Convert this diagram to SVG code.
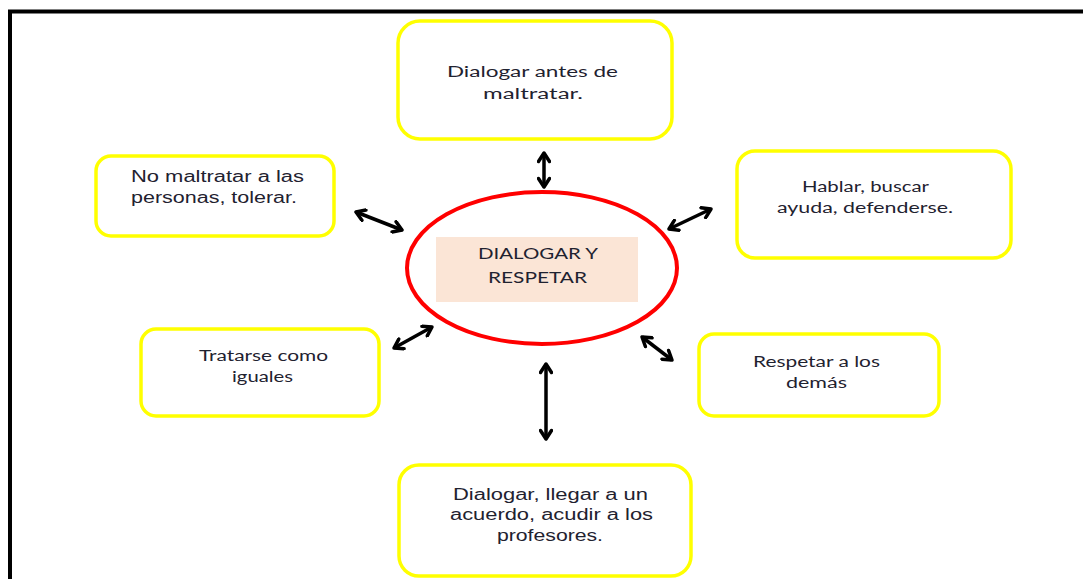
<svg xmlns="http://www.w3.org/2000/svg" width="1083" height="579" viewBox="0 0 1083 579">
<defs>
<style>
.box{fill:#fff;stroke:#ffff00;stroke-width:3.5}
.cal{font-family:Lato,"Open Sans","DejaVu Sans",sans-serif;font-size:15.5px;fill:#1f2230}
.ari{font-family:"Liberation Sans",Arial,sans-serif;font-size:16px;fill:#1f2230}
.conn{stroke:#000;stroke-width:3.5;fill:none;marker-start:url(#ah);marker-end:url(#ah)}
</style>
<marker id="ah" viewBox="0 0 14 14" refX="11.5" refY="7" markerWidth="14" markerHeight="14" markerUnits="userSpaceOnUse" orient="auto-start-reverse">
<path d="M3,1.5 L11.5,7 L3,12.5" fill="none" stroke="#000" stroke-width="3.5" stroke-linecap="round" stroke-linejoin="round"/>
</marker>
</defs>
<rect x="0" y="0" width="1083" height="579" fill="#fff"/>
<path d="M10,600 L10,11.5 L1100,11.5" fill="none" stroke="#000" stroke-width="4"/>

<g id="connectors">
<line class="conn" x1="544" y1="153" x2="544" y2="187"/>
<line class="conn" x1="356" y1="212" x2="402" y2="230"/>
<line class="conn" x1="669" y1="229" x2="711" y2="209"/>
<line class="conn" x1="394" y1="348" x2="432" y2="327"/>
<line class="conn" x1="642" y1="337" x2="672" y2="360"/>
<line class="conn" x1="546" y1="364" x2="546" y2="439"/>
</g>

<g id="center">
<ellipse cx="542" cy="268" rx="135" ry="76" fill="#fff" stroke="#ff0000" stroke-width="4"/>
<rect x="436" y="237" width="202" height="65" fill="#fbe5d6"/>
<text class="cal" font-size="16" x="478" y="259" textLength="120" lengthAdjust="spacingAndGlyphs">DIALOGAR Y</text>
<text class="cal" font-size="16" x="488" y="283" textLength="99" lengthAdjust="spacingAndGlyphs">RESPETAR</text>
</g>

<g id="n-top">
<rect class="box" x="398" y="21" width="274" height="118" rx="22"/>
<text class="cal" x="447" y="77" textLength="171" lengthAdjust="spacingAndGlyphs">Dialogar antes de</text>
<text class="cal" x="483" y="99" textLength="100" lengthAdjust="spacingAndGlyphs">maltratar.</text>
</g>

<g id="n-topleft">
<rect class="box" x="96" y="156" width="238" height="80" rx="15"/>
<text class="ari" x="131" y="182" textLength="173" lengthAdjust="spacingAndGlyphs">No maltratar a las</text>
<text class="ari" x="131" y="203" textLength="166" lengthAdjust="spacingAndGlyphs">personas, tolerar.</text>
</g>

<g id="n-topright">
<rect class="box" x="737" y="151" width="274" height="107" rx="18"/>
<text class="cal" x="802" y="192" textLength="127" lengthAdjust="spacingAndGlyphs">Hablar, buscar</text>
<text class="cal" x="777" y="213" textLength="176" lengthAdjust="spacingAndGlyphs">ayuda, defenderse.</text>
</g>

<g id="n-left">
<rect class="box" x="141" y="329" width="238" height="87" rx="15"/>
<text class="cal" x="199" y="361" textLength="129" lengthAdjust="spacingAndGlyphs">Tratarse como</text>
<text class="cal" x="232" y="382" textLength="61" lengthAdjust="spacingAndGlyphs">iguales</text>
</g>

<g id="n-right">
<rect class="box" x="699" y="334" width="240" height="82" rx="15"/>
<text class="cal" x="753" y="367" textLength="127" lengthAdjust="spacingAndGlyphs">Respetar a los</text>
<text class="cal" x="786" y="388" textLength="61" lengthAdjust="spacingAndGlyphs">demás</text>
</g>

<g id="n-bottom">
<rect class="box" x="399" y="465" width="292" height="111" rx="20"/>
<text class="ari" x="453" y="500" textLength="195" lengthAdjust="spacingAndGlyphs">Dialogar, llegar a un</text>
<text class="ari" x="450" y="520" textLength="203" lengthAdjust="spacingAndGlyphs">acuerdo, acudir a los</text>
<text class="ari" x="497" y="541" textLength="106" lengthAdjust="spacingAndGlyphs">profesores.</text>
</g>
</svg>
